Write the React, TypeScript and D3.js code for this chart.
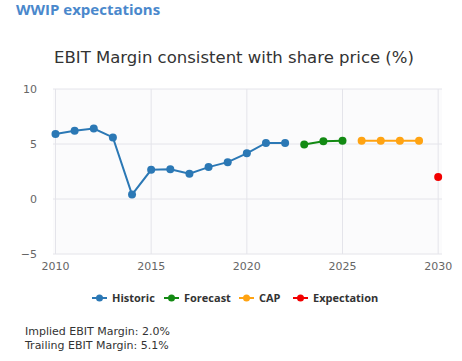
import * as d3 from 'd3';
import React from 'react';

// series values
const historicYears = [2010, 2011, 2012, 2013, 2014, 2015, 2016, 2017, 2018, 2019, 2020, 2021, 2022];
const historicValues = [5.9, 6.2, 6.4, 5.6, 0.4, 2.65, 2.7, 2.3, 2.9, 3.35, 4.15, 5.1, 5.1];
const forecastYears = [2023, 2024, 2025];
const forecastValues = [4.95, 5.25, 5.3];
const capYears = [2026, 2027, 2028, 2029];
const capValues = [5.3, 5.3, 5.3, 5.3];
const expectationYears = [2030];
const expectationValues = [2.0];

const xTicks = [2010, 2015, 2020, 2025, 2030];
const yTicks = [-5, 0, 5, 10];

const seriesNames = ['Historic', 'Forecast', 'CAP', 'Expectation'];
const seriesColors = ['#2b78b5', '#138a13', '#ffa312', '#f20000'];

const notes = ['Implied EBIT Margin: 2.0%', 'Trailing EBIT Margin: 5.1%'];

const font = '"DejaVu Sans", Verdana, sans-serif';

export default function App() {
  // set the dimensions of the plot area
  const margin = { top: 89, left: 53, right: 20, bottom: 107 };
  const width = 462 - margin.left - margin.right;
  const height = 361 - margin.top - margin.bottom;

  const x = d3.scaleLinear().domain([2009.87, 2030.2]).range([0, width]);
  const y = d3.scaleLinear().domain([-5, 10]).range([height, 0]);

  const line = d3
    .line<[number, number]>()
    .x(d => x(d[0]))
    .y(d => y(d[1]));

  const series = [
    { years: historicYears, values: historicValues },
    { years: forecastYears, values: forecastValues },
    { years: capYears, values: capValues },
    { years: expectationYears, values: expectationValues },
  ].map((s, i) => ({
    name: seriesNames[i],
    color: seriesColors[i],
    points: s.years.map((yr, j) => [yr, s.values[j]] as [number, number]),
  }));

  // legend layout
  const legendX = [92, 164, 239, 293];

  return (
    <svg
      width={462}
      height={361}
      style={{ position: 'absolute', left: 0, top: 0, background: '#fff' }}
      fontFamily={font}
    >
      <text x={16} y={15} fontSize={15} fontWeight="bold" fill="#4a88cc" fontFamily='"Open Sans", sans-serif'>
        WWIP expectations
      </text>
      <text x={234} y={63} fontSize={16.5} fill="#333" textAnchor="middle">
        EBIT Margin consistent with share price (%)
      </text>

      <g transform={`translate(${margin.left},${margin.top})`}>
        <rect width={width} height={height} fill="#fbfbfc" />
        {yTicks.map(t => (
          <g key={t}>
            <line x1={0} x2={width} y1={y(t)} y2={y(t)} stroke="#e4e4ea" />
            <text x={-16} y={y(t)} dy="0.35em" textAnchor="end" fontSize={11} fill="#666">
              {t < 0 ? `\u2212${-t}` : t}
            </text>
          </g>
        ))}
        {xTicks.map(t => (
          <g key={t}>
            <line x1={x(t)} x2={x(t)} y1={0} y2={height} stroke="#e4e4ea" />
            <text x={x(t)} y={height + 16} textAnchor="middle" fontSize={11} fill="#666">
              {t}
            </text>
          </g>
        ))}
        {series.map(s => (
          <g key={s.name}>
            <path d={line(s.points) ?? ''} fill="none" stroke={s.color} strokeWidth={2} />
            {s.points.map(p => (
              <circle key={p[0]} cx={x(p[0])} cy={y(p[1])} r={4} fill={s.color} />
            ))}
          </g>
        ))}
      </g>

      {/* legend */}
      {series.map((s, i) => (
        <g key={s.name} transform={`translate(${legendX[i]},298)`}>
          <line x1={0} x2={15} y1={0} y2={0} stroke={s.color} strokeWidth={2} />
          <circle cx={7.5} cy={0} r={3.5} fill={s.color} />
          <text x={20} y={0} dy="0.35em" fontSize={11} fontWeight="bold" fill="#333" fontFamily='"Open Sans", sans-serif'>
            {s.name}
          </text>
        </g>
      ))}

      {notes.map((n, i) => (
        <text key={n} x={25} y={331 + i * 14.5} dy="0.35em" fontSize={11} fill="#333">
          {n}
        </text>
      ))}
    </svg>
  );
}
